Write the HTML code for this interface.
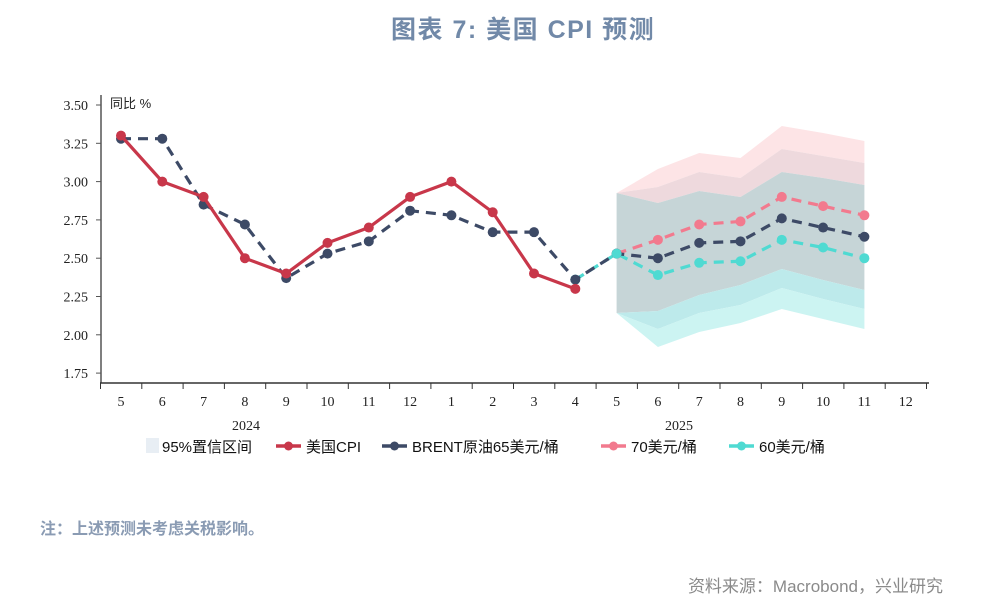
<!DOCTYPE html>
<html><head><meta charset="utf-8"><style>
body{margin:0;width:988px;height:607px;background:#fff;overflow:hidden;position:relative;font-family:"Liberation Sans","Noto Sans CJK SC",sans-serif}
.t{position:absolute;white-space:nowrap}
</style></head><body>
<div class="t" style="left:391px;top:10px;font-size:25px;color:#7189a8;font-weight:bold;letter-spacing:1.5px">图表 7: 美国 CPI 预测</div>
<svg id="c" width="988" height="607" style="position:absolute;left:0;top:0"></svg>
<div class="t" style="left:40px;top:515px;font-size:16px;color:#8a9bb3;font-weight:bold">注：上述预测未考虑关税影响。</div>
<div class="t" style="right:45px;top:572px;font-size:17px;color:#8a8a8a">资料来源：Macrobond，兴业研究</div>
<script>
const NS="http://www.w3.org/2000/svg",s=document.getElementById('c');
function el(t,a,txt){const e=document.createElementNS(NS,t);for(const k in a)e.setAttribute(k,a[k]);if(txt!=null)e.textContent=txt;s.appendChild(e);return e;}
const X=i=>121+i*41.3, Y=v=>105+(3.5-v)*153.2;
const fx=[12,13,14,15,16,17,18];
function band(top,bot,fill){let p=fx.map((i,k)=>X(i)+','+top[k]);for(let k=fx.length-1;k>=0;k--)p.push(X(fx[k])+','+bot[k]);el('polygon',{points:p.join(' '),fill:fill});}
const oT=[193,169,153,158,126,133,141],iT=[193,187,172,178,149,156,163],gT=[193,203,191,197,172,178,185];
const gB=[313,311,295,285,269,280,290],iB=[313,329,313,305,288,299,309],oB=[313,347,332,323,309,319,329];
band(oT,iT,'#fde4e6');band(iT,gT,'#eed9dd');band(gT,gB,'#c6d5d7');band(gB,iB,'#bdeaeb');band(iB,oB,'#ccf4f2');
el('line',{x1:101,y1:95,x2:101,y2:383,stroke:'#555','stroke-width':1.5});
el('line',{x1:100,y1:383,x2:929,y2:383,stroke:'#333','stroke-width':1.5});
[3.5,3.25,3,2.75,2.5,2.25,2,1.75].forEach(v=>{el('line',{x1:96,y1:Y(v),x2:101,y2:Y(v),stroke:'#555'});el('text',{x:88,y:Y(v)+5,'text-anchor':'end','font-size':14,'font-family':'Liberation Serif,serif',fill:'#222'},v.toFixed(2));});
const lab=[5,6,7,8,9,10,11,12,1,2,3,4,5,6,7,8,9,10,11,12];
for(let i=0;i<=20;i++)el('line',{x1:100.5+i*41.3,y1:383,x2:100.5+i*41.3,y2:389,stroke:'#333'});
lab.forEach((l,i)=>el('text',{x:X(i),y:406,'text-anchor':'middle','font-size':14,'font-family':'Liberation Serif,serif',fill:'#222'},l));
el('text',{x:246,y:430,'text-anchor':'middle','font-size':14,'font-family':'Liberation Serif,serif',fill:'#222'},'2024');
el('text',{x:679,y:430,'text-anchor':'middle','font-size':14,'font-family':'Liberation Serif,serif',fill:'#222'},'2025');
el('text',{x:110,y:108,'font-size':13,fill:'#222'},'同比 %');
function ser(st,vals,col,dash){const pts=vals.map((v,k)=>X(st+k)+','+Y(v)).join(' ');el('polyline',{points:pts,fill:'none',stroke:col,'stroke-width':3.2,'stroke-dasharray':dash||'none'});vals.forEach((v,k)=>el('circle',{cx:X(st+k),cy:Y(v),r:5,fill:col}));}
ser(11,[2.36,2.53,2.39,2.47,2.48,2.62,2.57,2.50],'#4fdad2','10,7');
ser(12,[2.53,2.62,2.72,2.74,2.90,2.84,2.78],'#f27a8e','10,7');
ser(0,[3.28,3.28,2.85,2.72,2.37,2.53,2.61,2.81,2.78,2.67,2.67,2.36,2.53,2.50,2.60,2.61,2.76,2.70,2.64],'#3d4a66','10,7');
ser(0,[3.30,3.00,2.90,2.50,2.40,2.60,2.70,2.90,3.00,2.80,2.40,2.30],'#c8374a');
el('circle',{cx:X(12),cy:Y(2.53),r:5,fill:'#4fdad2'});
el('rect',{x:146,y:438,width:13,height:15,fill:'#e8eef4'});
el('text',{x:162,y:452,'font-size':15,fill:'#111'},'95%置信区间');
function lg(x,col,t,d){el('line',{x1:x,y1:446,x2:x+25,y2:446,stroke:col,'stroke-width':3.5,'stroke-dasharray':d||'none'});el('circle',{cx:x+12.5,cy:446,r:4.5,fill:col});el('text',{x:x+30,y:452,'font-size':15,fill:'#111'},t);}
lg(276,'#c8374a','美国CPI');lg(382,'#3d4a66','BRENT原油65美元/桶');lg(601,'#f27a8e','70美元/桶');lg(729,'#4fdad2','60美元/桶');
</script>
</body></html>
